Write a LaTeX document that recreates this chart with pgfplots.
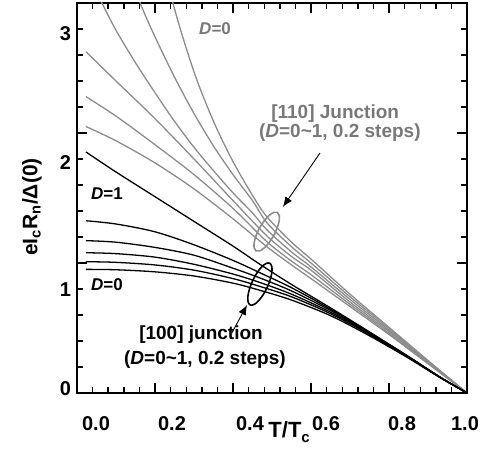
\documentclass[border=0pt]{standalone}
\usepackage{fontspec}
\setmainfont{Liberation Sans}
\usepackage{pgfplots}
\pgfplotsset{compat=1.18}
\usetikzlibrary{arrows.meta}
\definecolor{grayline}{RGB}{140,140,140}
\definecolor{graytext}{RGB}{120,120,120}
\begin{document}
\begin{tikzpicture}
\begin{axis}[
  at={(0pt,0pt)}, anchor=south west,
  scale only axis, width=390pt, height=390pt,
  xmin=0, xmax=1, ymin=0, ymax=3,
  line width=1.5pt,
  tick align=inside,
  xtick={0,0.2,0.4,0.6,0.8,1}, minor x tick num=4,
  ytick={0,1,2,3}, minor y tick num=4,
  major tick length=10pt, minor tick length=6pt,
  every tick/.style={draw=black, line width=1.4pt},
  xticklabel={\ifcase\ticknum\hspace*{38pt}0.0\or\hspace*{34pt}0.2\or\hspace*{34pt}0.4\or\hspace*{30pt}0.6\or\hspace*{26pt}0.8\or\hspace*{-4pt}1.0\fi},
  yticklabel={\ifcase\ticknum\raisebox{-2pt}[0pt][0pt]{0}\or\raisebox{-33pt}[0pt][0pt]{1}\or\raisebox{-36pt}[0pt][0pt]{2}\or\raisebox{-38pt}[0pt][0pt]{3}\fi},
  tick label style={font=\bfseries\fontsize{20}{24}\selectfont},
  xticklabel shift=19pt,
  yticklabel shift=2pt,
  xlabel={\bfseries\fontsize{22}{26}\selectfont T/T\raisebox{-0.25em}{\fontsize{15}{18}\selectfont c}},
  xlabel style={at={(axis description cs:0.544,-0.1)}, anchor=center},
  ylabel={\bfseries\fontsize{21}{25}\selectfont eI\textsubscript{c}R\textsubscript{n}/Δ(0)},
  ylabel style={at={(axis description cs:-0.1154,0.477)}, anchor=center},
  every axis plot/.append style={line width=1.3pt, smooth},
]
% ---- [110] junction, gray, D = 0 ... 1
\addplot[grayline] coordinates {(0.20,3.62)(0.246,3.0)(0.3,2.47)(0.35,2.09)(0.4,1.78)(0.45,1.52)(0.487,1.355)(0.55,1.16)(0.6,1.03)(0.7,0.76)(0.8,0.505)(0.9,0.25)(1,0)};
\addplot[grayline] coordinates {(0.12,3.35)(0.162,3.0)(0.2,2.74)(0.25,2.43)(0.3,2.15)(0.35,1.9)(0.4,1.68)(0.45,1.48)(0.487,1.31)(0.55,1.125)(0.6,1.0)(0.7,0.74)(0.8,0.495)(0.9,0.246)(1,0)};
\addplot[grayline] coordinates {(0.023,3.25)(0.064,3.0)(0.1,2.79)(0.15,2.54)(0.2,2.31)(0.25,2.09)(0.3,1.89)(0.35,1.71)(0.4,1.54)(0.45,1.385)(0.487,1.255)(0.55,1.085)(0.6,0.97)(0.7,0.72)(0.8,0.483)(0.9,0.241)(1,0)};
\addplot[grayline] coordinates {(0.023,2.625)(0.1,2.40)(0.2,2.11)(0.3,1.80)(0.4,1.48)(0.487,1.208)(0.55,1.05)(0.6,0.945)(0.7,0.70)(0.8,0.472)(0.9,0.236)(1,0)};
\addplot[grayline] coordinates {(0.023,2.28)(0.1,2.13)(0.2,1.91)(0.3,1.68)(0.4,1.42)(0.487,1.164)(0.55,1.015)(0.6,0.91)(0.7,0.682)(0.8,0.46)(0.9,0.23)(1,0)};
\addplot[grayline] coordinates {(0.023,2.05)(0.1,1.94)(0.2,1.77)(0.3,1.57)(0.4,1.34)(0.487,1.125)(0.55,0.985)(0.6,0.88)(0.7,0.665)(0.8,0.45)(0.9,0.225)(1,0)};
% ---- [100] junction, black, D = 0 ... 1
\addplot[black] coordinates {(0.023,0.951)(0.1,0.948)(0.2,0.932)(0.3,0.90)(0.4,0.845)(0.469,0.79)(0.55,0.715)(0.65,0.595)(0.75,0.44)(0.85,0.268)(0.93,0.12)(1,0)};
\addplot[black] coordinates {(0.023,1.01)(0.1,1.005)(0.2,0.985)(0.3,0.945)(0.4,0.88)(0.469,0.82)(0.55,0.74)(0.65,0.61)(0.75,0.45)(0.85,0.272)(0.93,0.121)(1,0)};
\addplot[black] coordinates {(0.023,1.079)(0.1,1.072)(0.2,1.045)(0.3,0.99)(0.4,0.915)(0.469,0.85)(0.55,0.76)(0.65,0.622)(0.75,0.455)(0.85,0.275)(0.93,0.122)(1,0)};
\addplot[black] coordinates {(0.023,1.172)(0.1,1.16)(0.2,1.12)(0.3,1.06)(0.4,0.96)(0.469,0.885)(0.55,0.785)(0.65,0.635)(0.75,0.46)(0.85,0.277)(0.93,0.123)(1,0)};
\addplot[black] coordinates {(0.023,1.325)(0.1,1.30)(0.2,1.24)(0.3,1.14)(0.4,1.02)(0.469,0.925)(0.55,0.81)(0.65,0.645)(0.75,0.465)(0.85,0.279)(0.93,0.124)(1,0)};
\addplot[black] coordinates {(0.023,1.854)(0.1,1.70)(0.2,1.51)(0.3,1.32)(0.4,1.13)(0.469,0.99)(0.55,0.835)(0.65,0.655)(0.75,0.47)(0.85,0.281)(0.93,0.125)(1,0)};
% ---- annotations
\node[text=graytext, font=\bfseries\fontsize{17}{20}\selectfont] at (axis cs:0.354,2.80) {\itshape D\upshape=0};
\node[text=graytext, font=\bfseries\fontsize{19}{22}\selectfont] at (axis cs:0.662,2.146) {[110] Junction};
\node[text=graytext, font=\bfseries\fontsize{19}{22}\selectfont] at (axis cs:0.674,2.00) {(\itshape D\upshape=0\textasciitilde1, 0.2 steps)};
\node[font=\bfseries\fontsize{17}{20}\selectfont] at (axis cs:0.077,1.53) {\itshape D\upshape=1};
\node[font=\bfseries\fontsize{17}{20}\selectfont] at (axis cs:0.077,0.83) {\itshape D\upshape=0};
\node[font=\bfseries\fontsize{19}{22}\selectfont] at (axis cs:0.318,0.446) {[100] junction};
\node[font=\bfseries\fontsize{19}{22}\selectfont] at (axis cs:0.328,0.254) {(\itshape D\upshape=0\textasciitilde1, 0.2 steps)};
\coordinate (ge) at (axis cs:0.4864,1.241);
\coordinate (be) at (axis cs:0.469,0.838);
\coordinate (ga1) at (axis cs:0.623,1.846);
\coordinate (ga2) at (axis cs:0.528,1.431);
\coordinate (ba1) at (axis cs:0.397,0.4615);
\coordinate (ba2) at (axis cs:0.436,0.677);
\end{axis}
% tick marks on all four sides, drawn as explicit segments
\foreach \i/\tl in {0/10,1/6,2/6,3/6,4/6,5/10,6/6,7/6,8/6,9/6,10/10,11/6,12/6,13/6,14/6,15/10,16/6,17/6,18/6,19/6,20/10,21/6,22/6,23/6,24/6,25/10}{
  \draw[black, line width=1.4pt] (\i*15.6pt,0pt) -- (\i*15.6pt,\tl pt);
  \draw[black, line width=1.4pt] (\i*15.6pt,390pt) -- (\i*15.6pt,390pt-\tl pt);
}
\foreach \j/\tl in {0/10,1/6,2/6,3/6,4/6,5/10,6/6,7/6,8/6,9/6,10/10,11/6,12/6,13/6,14/6,15/10}{
  \draw[black, line width=1.4pt] (0pt,\j*26pt) -- (\tl pt,\j*26pt);
  \draw[black, line width=1.4pt] (390pt,\j*26pt) -- (390pt-\tl pt,\j*26pt);
}
\draw[grayline, line width=1.6pt, shift={(ge)}, rotate=-29] (0,0) ellipse (8pt and 22pt);
\draw[black, line width=1.6pt, shift={(be)}, rotate=-25] (0,0) ellipse (8pt and 23pt);
\draw[line width=0.9pt, -{Latex[length=10pt,width=8pt]}] (ga1) -- (ga2);
\draw[line width=0.9pt, -{Latex[length=10pt,width=8pt]}] (ba1) -- (ba2);
\pgfresetboundingbox
\useasboundingbox (-77pt,-62pt) rectangle (404pt,393pt);
\end{tikzpicture}
\end{document}
